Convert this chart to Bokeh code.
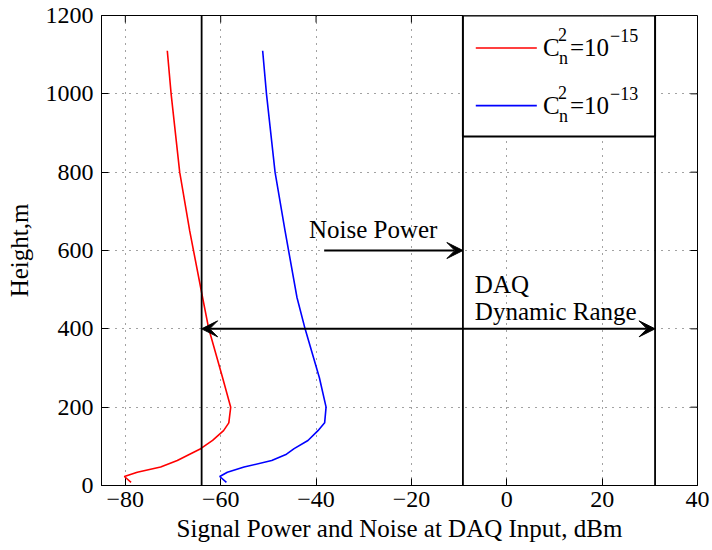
import math
from bokeh.plotting import figure
from bokeh.models import Range1d, FixedTicker, Label, Arrow, VeeHead
from bokeh.embed import file_html
from bokeh.resources import INLINE

# ---- data ----
heights = [1110, 1000, 800, 650, 480, 400, 275, 200, 160, 140, 115, 94, 80, 64, 47, 34, 23, 8]
power_cn15 = [-71.2, -70.4, -68.6, -66.5, -63.8, -62.5, -59.6, -57.9, -58.3, -59.4, -61.7, -64.2,
              -66.5, -69.1, -72.6, -77.5, -80.2, -78.8]
power_cn13 = [-51.2, -50.4, -48.6, -46.5, -44.0, -42.3, -39.3, -37.9, -38.2, -39.6, -41.7, -44.6,
              -46.2, -49.3, -55.1, -58.6, -60.2, -58.8]

x_ticks = [-80, -60, -40, -20, 0, 20, 40]
y_ticks = [0, 200, 400, 600, 800, 1000, 1200]

daq_min_dbm = -64.0
noise_power_dbm = -9.2
daq_max_dbm = 31.1
vlines = [daq_min_dbm, noise_power_dbm, daq_max_dbm]

noise_arrow_start = -38.3
noise_arrow_height = 600
range_arrow_height = 400

X0, X1, Y0, Y1 = -85, 40, 0, 1200
FONT = "Liberation Serif"
TXT_UP = 8  # pixel nudge for text baselines

p = figure(width=712, height=550, output_backend="svg", toolbar_location=None,
           x_range=Range1d(X0, X1), y_range=Range1d(Y0, Y1),
           min_border_left=101, min_border_right=15, min_border_top=15, min_border_bottom=65)
p.background_fill_color = "white"
p.border_fill_color = "white"
p.outline_line_color = "black"
p.outline_line_width = 1

def style_axis(ax):
    ax.axis_line_color = "black"
    ax.major_tick_in = 7
    ax.major_tick_out = 0
    ax.minor_tick_line_color = None
    ax.major_tick_line_color = "black"
    ax.major_label_text_font = FONT
    ax.major_label_text_font_size = "24px"
    ax.major_label_text_color = "black"
    ax.axis_label_text_font = FONT
    ax.axis_label_text_font_style = "normal"
    ax.axis_label_text_font_size = "25px"
    ax.axis_label_text_color = "black"

xax = p.xaxis[0]
yax = p.yaxis[0]
xax.ticker = FixedTicker(ticks=x_ticks)
yax.ticker = FixedTicker(ticks=y_ticks)
xax.major_label_overrides = {t: (str(t).replace("-", "\u2212")) for t in x_ticks}
style_axis(xax)
style_axis(yax)
xax.axis_label = "Signal Power and Noise at DAQ Input, dBm"
yax.axis_label = "Height,m"
xax.major_label_standoff = 6
xax.axis_label_standoff = 5
yax.major_label_standoff = 8
yax.axis_label_standoff = 10

p.xgrid.ticker = FixedTicker(ticks=x_ticks)
p.ygrid.ticker = FixedTicker(ticks=y_ticks)
for g in (p.xgrid[0], p.ygrid[0]):
    g.grid_line_color = "#444444"
    g.grid_line_dash = "1 6"
    g.grid_line_width = 1

# inward ticks on the top and right edges of the box
p.ray(x=x_ticks, y=[Y1] * len(x_ticks), length=7, length_units="screen",
      angle=-math.pi / 2, line_color="black", line_width=1)
p.ray(x=[X1] * len(y_ticks), y=y_ticks, length=7, length_units="screen",
      angle=math.pi, line_color="black", line_width=1)

# curves
p.line(power_cn15, heights, line_color="red", line_width=1.6)
p.line(power_cn13, heights, line_color="blue", line_width=1.6)

# vertical lines (DAQ min, noise power, DAQ max)
p.segment(x0=vlines, y0=[Y0] * 3, x1=vlines, y1=[Y1] * 3, line_color="black", line_width=1.8)

# arrows
p.add_layout(Arrow(x_start=noise_arrow_start, y_start=noise_arrow_height,
                   x_end=noise_power_dbm, y_end=noise_arrow_height,
                   line_width=2, line_color="black",
                   end=VeeHead(size=16, fill_color="black", line_color="black")))
p.add_layout(Arrow(x_start=daq_min_dbm, y_start=range_arrow_height,
                   x_end=daq_max_dbm, y_end=range_arrow_height,
                   line_width=2, line_color="black",
                   start=VeeHead(size=16, fill_color="black", line_color="black"),
                   end=VeeHead(size=16, fill_color="black", line_color="black")))

def label(x, y, text, size="25px", xo=0, yo=0):
    p.add_layout(Label(x=x, y=y, text=text, x_offset=xo, y_offset=yo + TXT_UP,
                       text_font=FONT, text_font_size=size, text_color="black",
                       text_baseline="alphabetic", text_align="left"))

label(-41.5, 633, "Noise Power")
label(-6.7, 493, "DAQ")
label(-6.7, 423, "Dynamic Range")

# legend (drawn manually to allow sub/superscripts)
p.quad(left=[noise_power_dbm], right=[daq_max_dbm], top=[Y1], bottom=[891],
       fill_color="white", line_color="black", line_width=2)
legend_colors = ["red", "blue"]
legend_exps = ["\u221215", "\u221213"]
legend_line_y = [1117, 970]
legend_text_y = [1098, 951]
for c, e, ly, ty in zip(legend_colors, legend_exps, legend_line_y, legend_text_y):
    p.line([-6.5, 6.3], [ly, ly], line_color=c, line_width=1.6)
    label(7.6, ty, "C")
    label(7.6, ty, "2", size="18px", xo=15, yo=13)
    label(7.6, ty, "n", size="18px", xo=16, yo=-11)
    label(7.6, ty, "=10", xo=27)
    label(7.6, ty, e, size="18px", xo=67, yo=12)

open("out.html", "w").write(file_html(p, INLINE))
